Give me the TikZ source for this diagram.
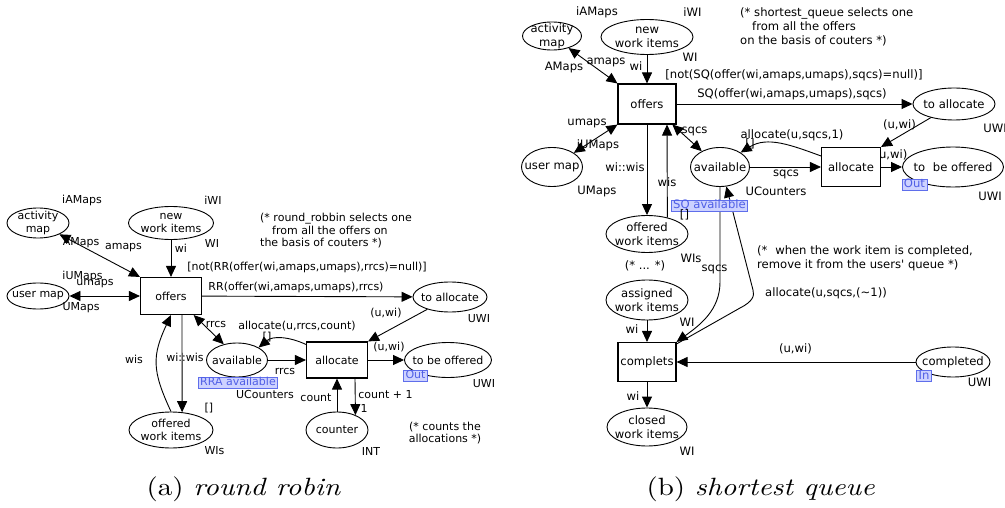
\documentclass[tikz,border=0pt]{standalone}
\usepackage{fontspec}
\newfontfamily\dejavu{DejaVu Sans}
\usetikzlibrary{shapes.geometric,arrows.meta,calc}
\definecolor{portdraw}{RGB}{95,110,235}
\definecolor{portfill}{RGB}{205,210,255}
\definecolor{porttext}{RGB}{80,95,230}
\newcommand{\fa}{\dejavu\fontsize{11}{13}\selectfont}
\newcommand{\fb}{\dejavu\fontsize{11.6}{14}\selectfont}
\tikzset{
  place/.style={ellipse, draw, line width=0.9pt, inner sep=0pt, fill=white},
  trans/.style={rectangle, draw, line width=1.1pt, inner sep=0pt, fill=white},
  arc/.style={-{Triangle[length=11pt,width=10pt]}, line width=0.9pt},
  darc/.style={{Triangle[length=11pt,width=10pt]}-{Triangle[length=11pt,width=10pt]}, line width=0.9pt},
  lbl/.style={inner sep=0pt},
  port/.style={draw=portdraw, fill=portfill, text=porttext, line width=0.8pt, inner xsep=2pt, inner ysep=0pt, text height=8.5pt, text depth=2.5pt},
  captxt/.style={font=\fontsize{10}{12}\selectfont, xscale=2.9, yscale=2.5, inner sep=0pt, anchor=base west}
}
\begin{document}
\begin{tikzpicture}[x=1pt,y=-1pt]
\useasboundingbox (0,0) rectangle (1005,508);
% ================= (a) round robin =================
\begin{scope}[font=\fa]
\node[place, minimum width=62pt, minimum height=30pt, label={[align=center]center:activity\\map}] (am) at (38,223) {};
\node[place, minimum width=85pt, minimum height=33pt, label={[align=center]center:new\\work items}] (nwi) at (171,223) {};
\node[place, minimum width=62pt, minimum height=26pt, label={center:user map}] (um) at (38,296) {};
\node[trans, minimum width=61pt, minimum height=37pt, label={center:offers}] (of) at (171,296) {};
\node[place, minimum width=74pt, minimum height=30pt, label={center:to allocate}] (ta) at (450,297) {};
\node[place, minimum width=61pt, minimum height=34pt, label={center:available}] (av) at (237,360) {};
\node[trans, minimum width=61pt, minimum height=36pt, label={center:allocate}] (al) at (337,360) {};
\node[place, minimum width=87pt, minimum height=35pt, label={center:to be offered}] (tbo) at (448,360) {};
\node[place, minimum width=62pt, minimum height=36pt, label={center:counter}] (ctr) at (337,430) {};
\node[place, minimum width=84pt, minimum height=36pt, label={[align=center]center:offered\\work items}] (ow) at (171,430) {};

\draw[darc] (am) -- (of.north west);
\draw[arc] (nwi) -- (of);
\draw[darc] (um) -- (of);
\draw[arc] (of) -- (ta);
\draw[arc] (ta) -- (al.north east);
\draw[darc] (of.-40) -- (av.130);
\draw[arc] (av) -- (al);
\draw[arc] ([yshift=-3pt]al.north west) to[out=155,in=40] (av.30);
\draw[arc] (al) -- (tbo);
\draw[arc] (ctr) -- (al);
\draw[arc] ([xshift=18pt]al.south) -- (ctr.39);
\draw[arc] ([xshift=11pt]of.south) -- (ow.58);
\draw[arc] (ow.north) to[out=115,in=-115,looseness=1.2] (of.south);

\node[lbl] (a1) at (82,200) {iAMaps};
\node[lbl] (a2) at (81,243) {AMaps};
\node[lbl] (a3) at (123.5,248) {amaps};
\node[lbl] (a4) at (213,200) {iWI};
\node[lbl] (a5) at (212,243) {WI};
\node[lbl] (a6) at (181,248) {wi};
\node[lbl] (a7) at (82.5,276) {iUMaps};
\node[lbl] (a8) at (95,284) {umaps};
\node[lbl] (a9) at (81,308) {UMaps};
\node[lbl] (a10) at (307,267) {[not(RR(offer(wi,amaps,umaps),rrcs)=null)]};
\node[lbl] (a11) at (296,287) {RR(offer(wi,amaps,umaps),rrcs)};
\node[lbl, align=left, anchor=west, font=\dejavu\fontsize{11}{12.5}\selectfont] (a12) at (260,231) {(* round\_robbin selects one\\\hspace*{12pt}from all the offers on\\the basis of couters *)};
\node[lbl] (a13) at (386,313) {(u,wi)};
\node[lbl] (a14) at (479,319) {UWI};
\node[lbl] (a15) at (216,324) {rrcs};
\node[lbl] (a16) at (297,326) {allocate(u,rrcs,count)};
\node[lbl] (a17) at (267,337) {[]};
\node[lbl] (a18) at (134,359) {wis};
\node[lbl] (a19) at (185,357) {wi::wis};
\node[lbl] (a20) at (285,371) {rrcs};
\node[port] (a21) at (238,382.5) {RRA available};
\node[lbl] (a22) at (265,394) {UCounters};
\node[lbl] (a23) at (389,347) {(u,wi)};
\node[port] (a24) at (415.5,375.5) {Out};
\node[lbl] (a25) at (484,384) {UWI};
\node[lbl] (a26) at (316,398) {count};
\node[lbl] (a27) at (385.5,395) {count + 1};
\node[lbl] (a28) at (364,408) {1};
\node[lbl] (a29) at (209,408) {[]};
\node[lbl] (a30) at (214.5,451) {WIs};
\node[lbl] (a31) at (371,451) {INT};
\node[lbl, align=center, font=\dejavu\fontsize{11}{12}\selectfont] (a32) at (445,433) {(* counts the\\allocations *)};
\end{scope}

% ================= (b) shortest queue =================
\begin{scope}[font=\fb]
\node[lbl] (b30) at (891,155) {(u,wi)};
\node[place, minimum width=59pt, minimum height=28pt, label={[align=center]center:activity\\map}] (am2) at (552,36) {};
\node[place, minimum width=92pt, minimum height=35pt, label={[align=center]center:new\\work items}] (nwi2) at (647,37) {};
\node[trans, minimum width=58pt, minimum height=40pt, label={center:offers}] (of2) at (647,104) {};
\node[place, minimum width=82pt, minimum height=32pt, label={center:to allocate}] (ta2) at (954,104) {};
\node[place, minimum width=61pt, minimum height=39pt, label={center:user map}] (um2) at (552,167) {};
\node[place, minimum width=59pt, minimum height=39pt, label={center:available}] (av2) at (720,167) {};
\node[trans, minimum width=59pt, minimum height=39pt, label={center:allocate}] (al2) at (851,167) {};
\node[place, minimum width=101pt, minimum height=40pt, label={center:to\hspace{0.35em} be offered}] (tbo2) at (953,167) {};
\node[place, minimum width=82pt, minimum height=37pt, label={[align=center]center:offered\\work items}] (ow2) at (647,234) {};
\node[place, minimum width=82pt, minimum height=40pt, label={[align=center]center:assigned\\work items}] (asg) at (647,300) {};
\node[trans, minimum width=58pt, minimum height=39pt, label={center:complets}] (cp) at (647,362) {};
\node[place, minimum width=74pt, minimum height=30pt, label={center:completed}] (ct) at (953,362) {};
\node[place, minimum width=80pt, minimum height=38pt, label={[align=center]center:closed\\work items}] (cw) at (647,427) {};

\draw[darc] (am2) -- (of2.north west);
\draw[arc] (nwi2) -- (of2);
\draw[arc] (of2) -- (ta2);
\draw[arc] (ta2) -- (al2.north east);
\draw[darc] (um2) -- (of2.south west);
\draw[darc] (of2.-39) -- (av2.139);
\draw[arc] (av2) -- (al2);
\draw[arc] ([yshift=-9pt]al2.north west) to[out=160,in=32] (av2.35);
\draw[arc] (al2) -- (tbo2);
\draw[arc] (of2) -- (ow2);
\draw[arc] (ow2.39) -- ([xshift=20pt]of2.south);
\draw[arc] (asg) -- (cp);
\draw[arc] (ct) -- (cp);
\draw[arc] (cp) -- (cw);
\draw[arc] (av2.south) -- (720,282) .. controls (720,310) and (700,325) .. (cp.north east);
\draw[arc] ([yshift=-2pt]cp.north east) -- (740,308) .. controls (752,302) and (755,296) .. (753,290) -- (av2.-72);

\node[lbl] (b1) at (597,12) {iAMaps};
\node[lbl] (b2) at (692.5,12) {iWI};
\node[lbl] (b3) at (564,67) {AMaps};
\node[lbl] (b4) at (606,62) {amaps};
\node[lbl] (b5) at (636,66) {wi};
\node[lbl] (b6) at (690,57) {WI};
\node[lbl, align=left, anchor=west] (b7) at (740,27) {(* shortest\_queue selects one\\\hspace*{12pt}from all the offers\\on the basis of couters *)};
\node[lbl] (b8) at (794,75) {[not(SQ(offer(wi,amaps,umaps),sqcs)=null)]};
\node[lbl] (b9) at (792,94) {SQ(offer(wi,amaps,umaps),sqcs)};
\node[lbl] (b10) at (899.5,125) {(u,wi)};
\node[lbl] (b11) at (995,128) {UWI};
\node[lbl] (b12) at (792,135) {allocate(u,sqcs,1)};
\node[lbl] (b13) at (750,144) {[]};
\node[lbl] (b14) at (587,123) {umaps};
\node[lbl] (b15) at (598,145) {iUMaps};
\node[lbl] (b16) at (694.5,131) {sqcs};
\node[lbl] (b17) at (786,174) {sqcs};
\node[lbl] (b18) at (776,191) {UCounters};
\node[port] (b19) at (914.5,184.5) {Out};
\node[lbl] (b20) at (990,196) {UWI};
\node[lbl] (b21) at (597,191) {UMaps};
\node[lbl] (b22) at (625,167) {wi::wis};
\node[lbl] (b23) at (667,182) {wis};
\node[port] (b24) at (709.5,206) {SQ available};
\node[lbl] (b25) at (684.5,215) {[]};
\node[lbl] (b26) at (691,258) {WIs};
\node[lbl] (b27) at (645,266) {(* ... *)};
\node[lbl] (b28) at (714.5,269) {sqcs};
\node[lbl] (b29) at (687,322) {WI};
\node[lbl] (b31) at (632,329) {wi};
\node[lbl, align=left, anchor=west] (b32) at (757,258) {(*\hspace{0.35em} when the work item is completed,\\remove it from the users' queue *)};
\node[lbl] (b33) at (826,293) {allocate(u,sqcs,(\textasciitilde1))};
\node[lbl] (b34) at (795.5,349) {(u,wi)};
\node[port] (b35) at (924,376) {In};
\node[lbl] (b36) at (979.5,382) {UWI};
\node[lbl] (b37) at (633,396) {wi};
\node[lbl] (b38) at (687,451) {WI};
\end{scope}

% captions
\node[captxt] (capa) at (146,495) {(a) \textit{round robin}};
\node[captxt] (capb) at (646,495) {(b) \textit{shortest queue}};
\end{tikzpicture}
\end{document}
